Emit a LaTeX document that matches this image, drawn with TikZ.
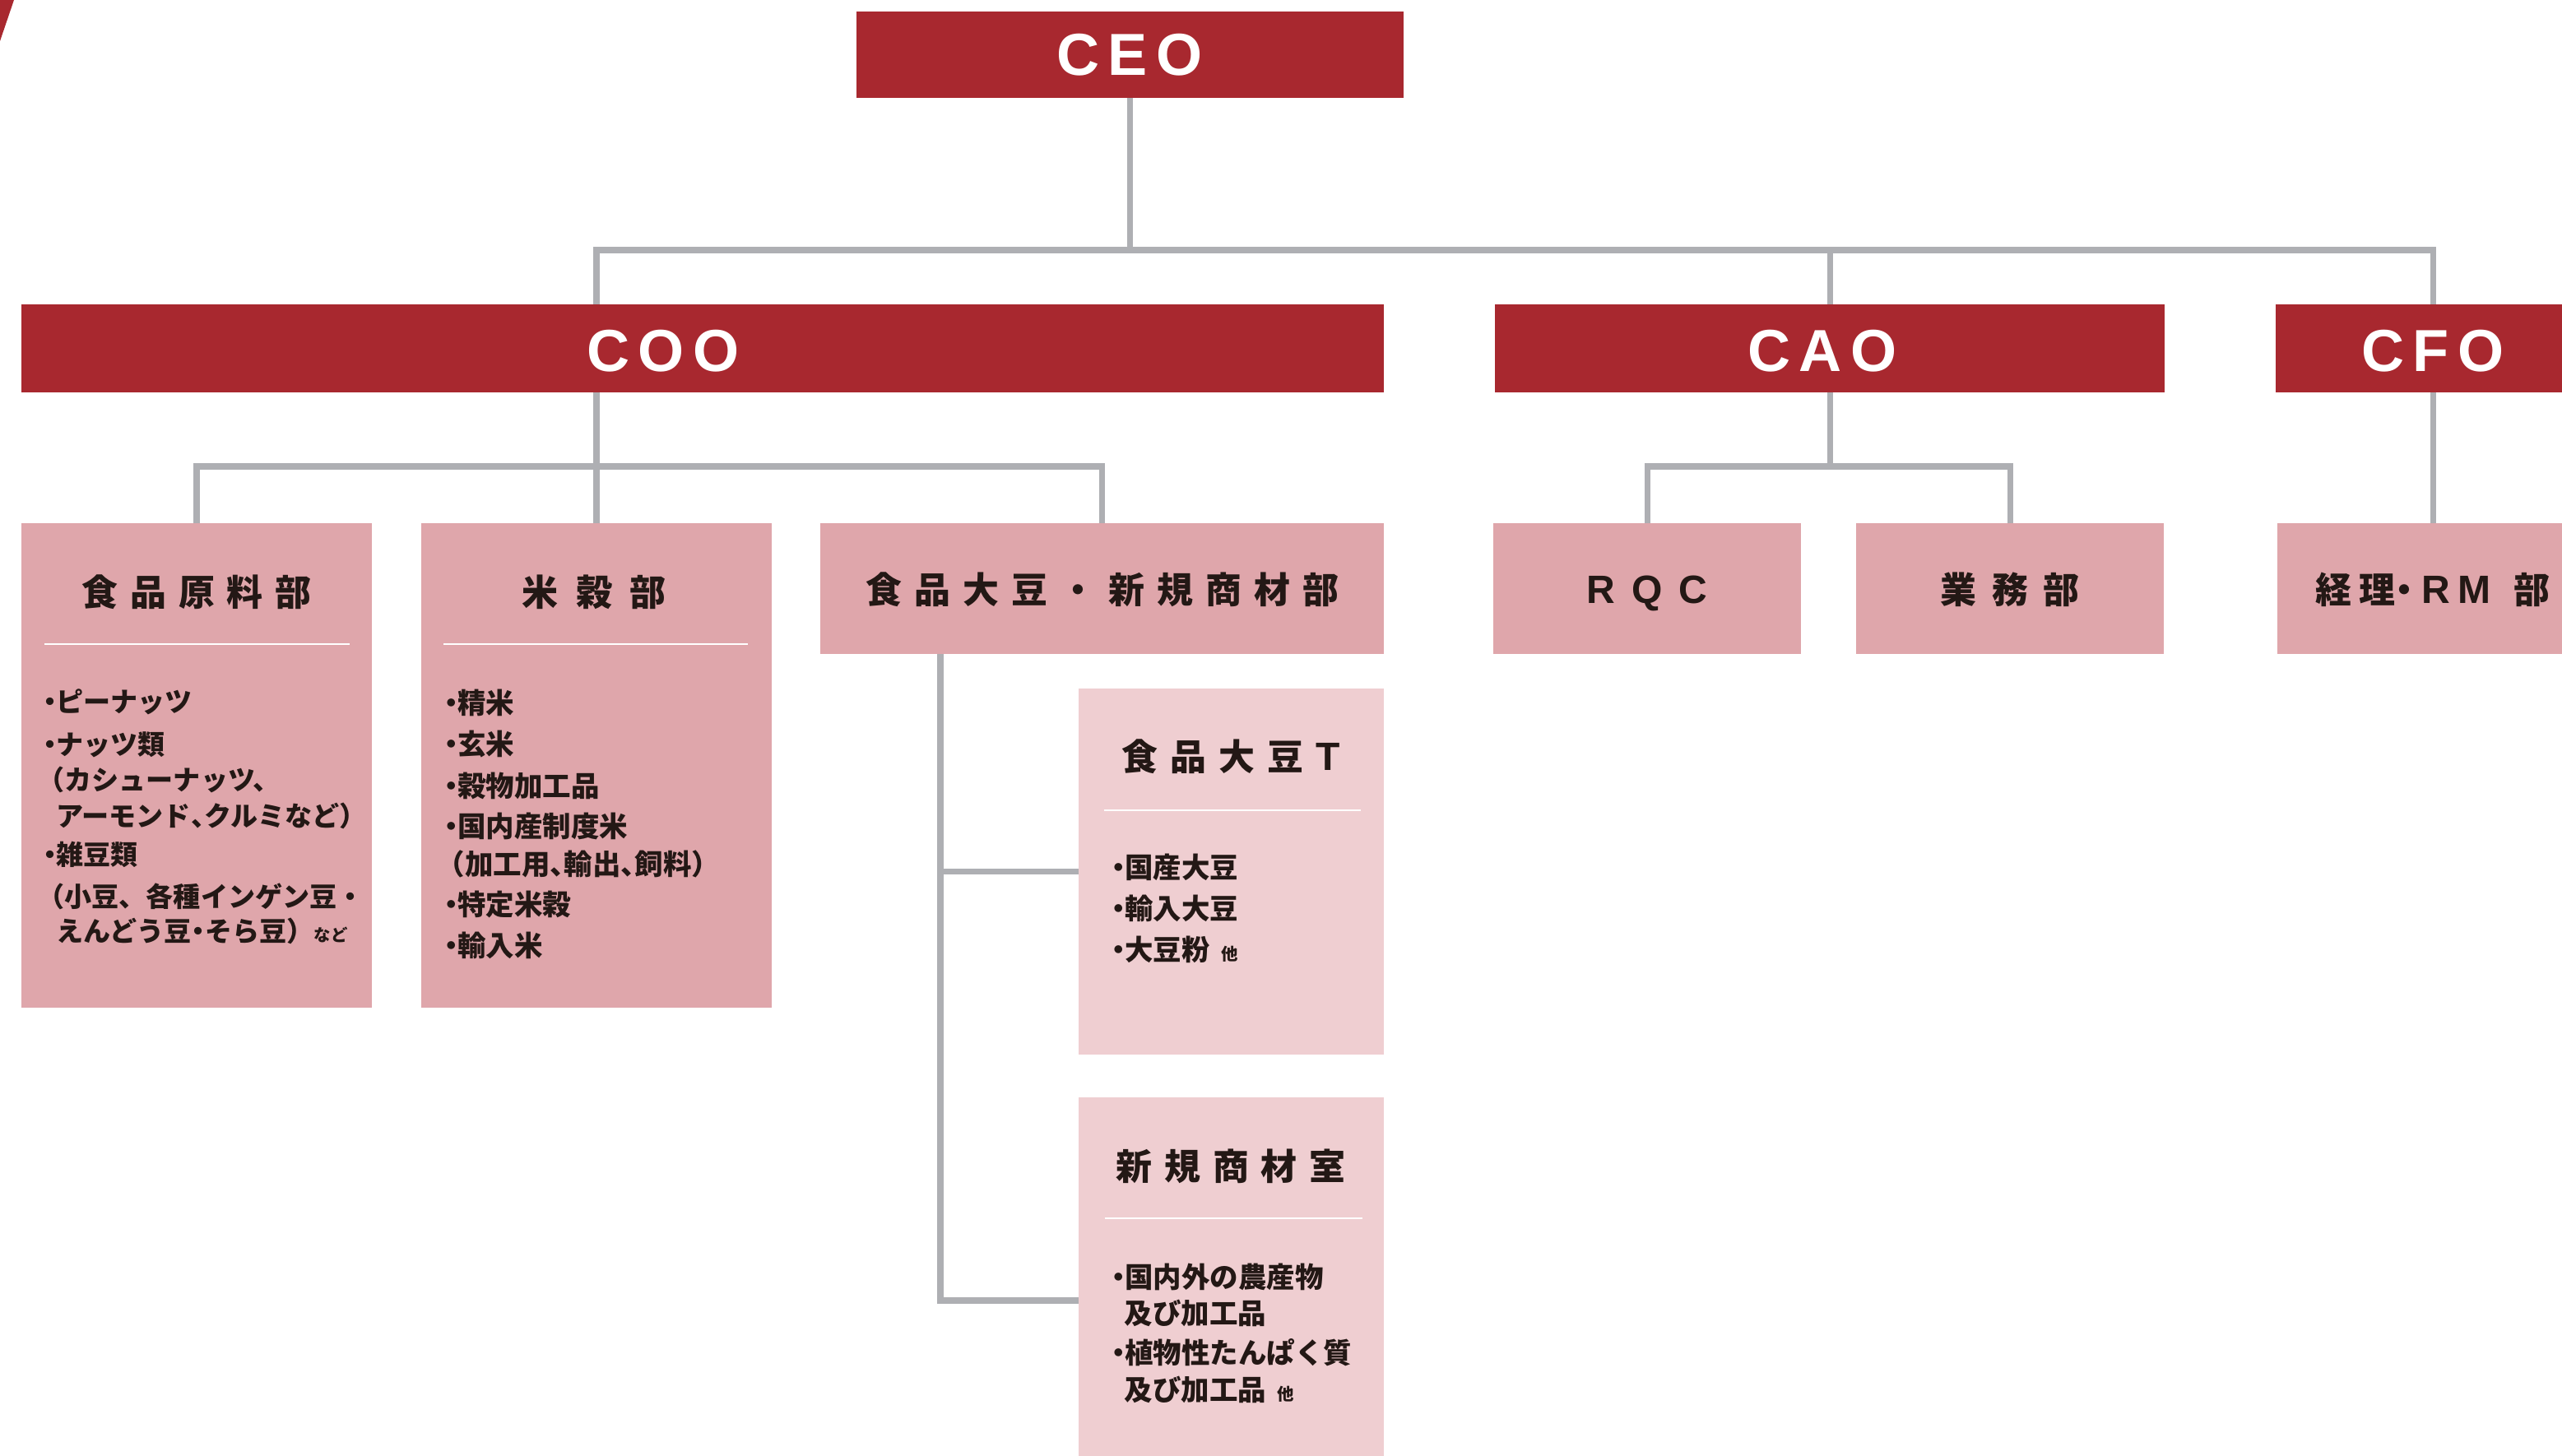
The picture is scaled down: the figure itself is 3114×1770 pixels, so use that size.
\documentclass[tikz,border=0pt]{standalone}
\usepackage{fontspec}
\usetikzlibrary{calc}
\newfontfamily\jp{Noto Sans CJK JP}
\newfontfamily\lat{Liberation Sans}
\definecolor{cred}{RGB}{168,40,47}
\definecolor{cpink}{RGB}{223,166,171}
\definecolor{clight}{RGB}{239,206,209}
\definecolor{cline}{RGB}{174,175,179}
\definecolor{ctext}{RGB}{35,24,21}
\newlength\trkamt
\newcommand\trk{\hspace{\trkamt}}
\newcommand\bul{\makebox[0.45em]{・}}
\newcommand\hcomma{\makebox[0.5em][l]{、}}
\newcommand\hdot{\makebox[0.5em]{・}}
\newcommand\smalltxt[1]{{\fontsize{5.8}{6}\selectfont #1}}
\tikzset{
  redbox/.style={fill=cred, inner sep=0pt, outer sep=0pt},
  pinkbox/.style={fill=cpink, inner sep=0pt, outer sep=0pt},
  lightbox/.style={fill=clight, inner sep=0pt, outer sep=0pt},
  conn/.style={draw=cline, line width=2pt},
  sepline/.style={draw=white, line width=0.8pt},
  caplbl/.style={inner sep=0pt, anchor=base, text=white, font=\lat\bfseries\fontsize{20.5}{22}\selectfont},
  ttl/.style={inner sep=0pt, anchor=base, text=ctext, font=\jp\bfseries\fontsize{12.5}{14}\selectfont, execute at begin node={\setlength\trkamt{#1}}},
  itm/.style={inner sep=0pt, anchor=base west, text=ctext, font=\jp\bfseries\fontsize{9.4}{11}\selectfont},
  itmb/.style={itm, font=\jp\bfseries\fontsize{9.8}{11}\selectfont},
}
\newcommand\orgbox[6]{\node[#2, anchor=north west, minimum width={(#5-#3)*0.01cm}, minimum height={(#6-#4)*0.01cm}] (#1) at (#3,#4) {};}
\begin{document}
\begin{tikzpicture}[x=0.01cm,y=-0.01cm]
\useasboundingbox (0,0) rectangle (3114,1770);
\clip (0,0) rectangle (3114,1770);
\fill[cred] (0,0) -- (17,0) -- (0,50) -- cycle;
% boxes
\orgbox{ceo}{redbox}{1041}{14}{1706}{119}
\orgbox{coo}{redbox}{26}{370}{1682}{477}
\orgbox{cao}{redbox}{1817}{370}{2631}{477}
\orgbox{cfo}{redbox}{2766}{370}{3148}{477}
\orgbox{shokuhin}{pinkbox}{26}{636}{452}{1225}
\orgbox{beikoku}{pinkbox}{512}{636}{938}{1225}
\orgbox{daizu}{pinkbox}{997}{636}{1682}{795}
\orgbox{daizuT}{lightbox}{1311}{837}{1682}{1282}
\orgbox{shinki}{lightbox}{1311}{1334}{1682}{1828}
\orgbox{rqc}{pinkbox}{1815}{636}{2189}{795}
\orgbox{gyomu}{pinkbox}{2256}{636}{2630}{795}
\orgbox{keiri}{pinkbox}{2768}{636}{3146}{795}
% connectors
\coordinate (busTop) at (0,304);
\coordinate (busL) at (0,567);
\draw[conn] (ceo.south) -- (ceo.south |- busTop);
\draw[conn] (beikoku.north |- coo.north) |- (cfo.north |- busTop) -- (cfo.north);
\draw[conn] (cao.north |- busTop) -- (cao.north);
\draw[conn] (beikoku.north |- coo.south) -- (beikoku.north);
\draw[conn] (shokuhin.north) |- (daizu.north |- busL) -- (daizu.north);
\draw[conn] (cao.south) -- (cao.south |- busL);
\draw[conn] (rqc.north) |- (gyomu.north |- busL) -- (gyomu.north);
\draw[conn] (cfo.south) -- (keiri.north);
\coordinate (soyX) at ($(daizu.south west)+(146,0)$);
\draw[conn] (soyX) |- (shinki.west);
\draw[conn] (soyX |- daizuT.west) -- (daizuT.west);
% separators
\draw[sepline] ($(shokuhin.north west)+(28,147)$) -- ($(shokuhin.north east)+(-27,147)$);
\draw[sepline] ($(beikoku.north west)+(27,147)$) -- ($(beikoku.north east)+(-29,147)$);
\draw[sepline] ($(daizuT.north west)+(31,148)$) -- ($(daizuT.north east)+(-28,148)$);
\draw[sepline] ($(shinki.north west)+(32,147)$) -- ($(shinki.north east)+(-26,147)$);
% executive labels
\node[caplbl] (tceo) at (1373,92) {C\hspace{3.1pt}E\hspace{3.1pt}O};
\node[caplbl] (tcoo) at (806,452) {C\hspace{3.1pt}O\hspace{3.1pt}O};
\node[caplbl] (tcao) at (2215,452) {C\hspace{3.1pt}A\hspace{3.1pt}O};
\node[caplbl] (tcfo) at (2957,452) {C\hspace{3.1pt}F\hspace{3.1pt}O};
% department titles
\node[ttl=4.27pt] (tshokuhin) at (239,736) {食\trk 品\trk 原\trk 料\trk 部};
\node[ttl=6pt] (tbeikoku) at (722,736) {米\trk 穀\trk 部};
\node[ttl=4.27pt] (tdaizu) at (1340,734) {食\trk 品\trk 大\trk 豆\trk ・\trk 新\trk 規\trk 商\trk 材\trk 部};
\node[ttl=4.27pt] (tdaizuT) at (1496,936) {食\trk 品\trk 大\trk 豆\trk {\lat\bfseries\fontsize{13.66}{15}\selectfont T}};
\node[ttl=4.27pt] (tshinki) at (1496,1434) {新\trk 規\trk 商\trk 材\trk 室};
\node[ttl=5.4pt] (tgyomu) at (2443,733) {業\trk 務\trk 部};
\node[ttl=5.7pt, font=\lat\bfseries\fontsize{13.66}{15}\selectfont] (trqc) at (2002,733) {R\trk Q\trk C};
\node[ttl=2.56pt, anchor=base west] (tkeiri) at (2814,733) {経\trk 理\makebox[0.5em]{・}\hspace{2.85pt}{\lat\bfseries\fontsize{13.66}{15}\selectfont R\hspace{2.56pt}M}\hspace{8pt}部};
% items: 食品原料部
\node[itm] (s1) at (53,865) {\bul ピーナッツ};
\node[itm] (s2) at (53,917) {\bul ナッツ類};
\node[itm] (s3) at (45,960) {（カシューナッツ、};
\node[itm] (s4) at (68,1004) {アーモンド\hcomma クルミなど）};
\node[itm] (s5) at (53,1051) {\bul 雑豆類};
\node[itm] (s6) at (45,1102) {（小豆、各種インゲン豆・};
\node[itm] (s7) at (68,1144) {えんどう豆\hdot そら豆）\smalltxt{など}};
% items: 米穀部
\node[itmb] (b1) at (540,867) {\bul 精米};
\node[itmb] (b2) at (540,917) {\bul 玄米};
\node[itmb] (b3) at (540,968) {\bul 穀物加工品};
\node[itmb] (b4) at (540,1017) {\bul 国内産制度米};
\node[itmb] (b5) at (530,1063) {（加工用\hcomma 輸出\hcomma 飼料）};
\node[itmb] (b6) at (540,1112) {\bul 特定米穀};
\node[itmb] (b7) at (540,1162) {\bul 輸入米};
% items: 食品大豆T
\node[itmb] (d1) at (1351,1067) {\bul 国産大豆};
\node[itmb] (d2) at (1351,1117) {\bul 輸入大豆};
\node[itmb] (d3) at (1351,1167) {\bul 大豆粉\hspace{0.4em}\smalltxt{他}};
% items: 新規商材室
\node[itmb] (n1) at (1351,1565) {\bul 国内外の農産物};
\node[itmb] (n2) at (1366,1609) {及び加工品};
\node[itmb] (n3) at (1351,1657) {\bul 植物性たんぱく質};
\node[itmb] (n4) at (1366,1702) {及び加工品\hspace{0.4em}\smalltxt{他}};
\end{tikzpicture}
\end{document}
